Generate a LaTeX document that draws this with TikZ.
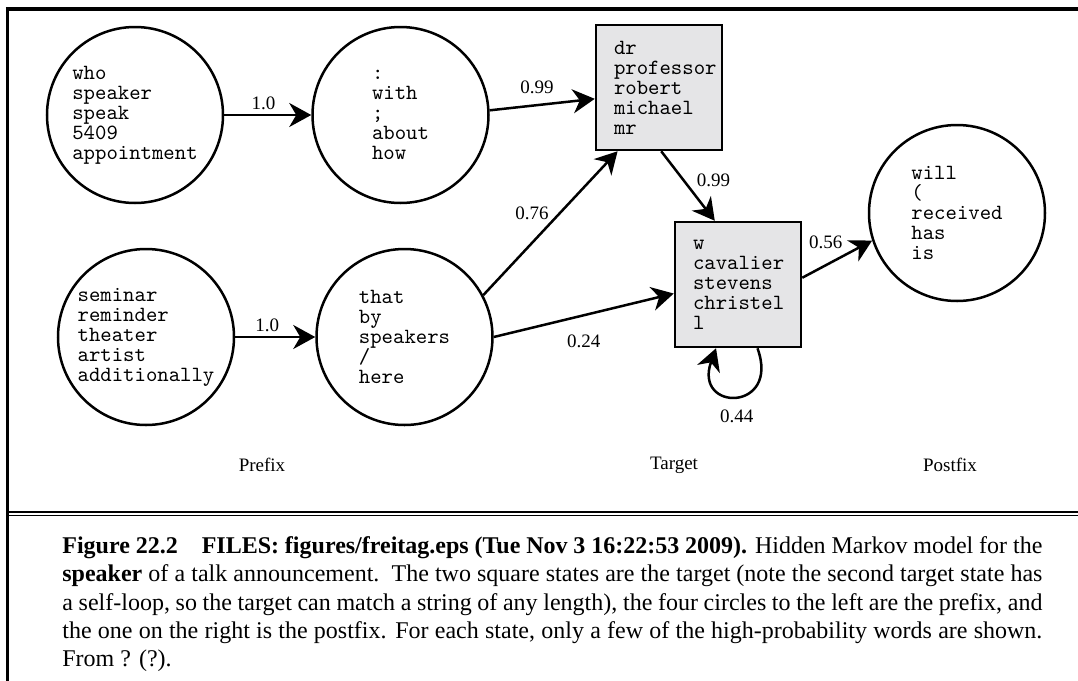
\documentclass[tikz,border=0pt]{standalone}
\usepackage{fontspec}
\setmainfont{Liberation Serif}
\usetikzlibrary{positioning, arrows.meta, calc}
\definecolor{boxfill}{HTML}{E5E5E7}
\newcommand{\wordsize}{\ttfamily\fontsize{10.85}{10}\selectfont}

\begin{document}
\begin{tikzpicture}[x=0.5pt, y=-0.5pt,
    circ/.style={circle, draw, line width=1.25pt, minimum size=88pt, inner sep=0pt, align=left, font=\wordsize},
    sqr/.style={rectangle, draw, fill=boxfill, line width=1.25pt, minimum width=63pt, minimum height=62.5pt, text width=45pt, inner xsep=9pt, inner ysep=0pt, align=left, font=\wordsize},
    arr/.style={-{Stealth[length=11pt, width=12pt, inset=3.5pt]}, line width=1.25pt},
    lbl/.style={font=\fontsize{9.5}{11}\selectfont, inner sep=2pt},
    region/.style={font=\fontsize{9.5}{11}\selectfont},
    frameline/.style={line width=#1},
  ]
    \useasboundingbox (0,0) rectangle (1078,681);

    % prefix states
    \node[circ] (pre1) at (135,115) {who\\speaker\\speak\\5409\\appointment};
    \node[circ, right=43.5pt of pre1] (pre2) {:\\with\\;\\about\\how};
    \node[circ] (pre3) at (146,337) {seminar\\reminder\\theater\\artist\\additionally};
    \node[circ, right=40pt of pre3] (pre4) {that\\by\\speakers\\/\\here};

    % target and postfix states
    \node[sqr] (tgt1) at (659,87.5) {dr\\professor\\robert\\michael\\mr};
    \node[sqr] (tgt2) at (738,284.5) {w\\cavalier\\stevens\\christel\\l};
    \node[circ] (post) at (957,213) {will\\(\\received\\has\\is};

    \draw[arr] (pre1) -- node[lbl, above, pos=0.45] {1.0} (pre2);
    \draw[arr] (pre3) -- node[lbl, above, pos=0.4] {1.0} (pre4);
    \draw[arr] (pre2.3) -- node[lbl, above=3pt, pos=0.45] {0.99} (tgt1.190);
    \draw[arr] (pre4.28) -- node[lbl, left=3pt, pos=0.57] {0.76} (tgt1.237);
    \draw[arr] (pre4.east) -- node[lbl, below=7pt] {0.24} (tgt2.188);
    \draw[arr] (tgt1.272) -- node[lbl, right=4pt, pos=0.42] {0.99} (tgt2.110);
    \draw[arr] (tgt2.6) -- node[lbl, above left, pos=0.65] {0.56} (post.198);
    \draw[arr] (tgt2.287) .. controls +(-70:34pt) and +(-110:34pt) .. node[lbl, below=4pt] {0.44} (tgt2.251);

    \node[region] (prefix) at (262,465) {Prefix};
    \node[region] (target) at (674,465) {Target};
    \node[region] (postfix) at (950,465) {Postfix};

    % frame
    \draw[frameline=1.75pt] (5.8,9.2) -- (1078,9.2);
    \draw[frameline=1.4pt] (7.4,7.4) -- (7.4,681);
    \draw[frameline=1.35pt] (7.4,512) -- (1078,512);
    \draw[frameline=0.8pt] (7.4,515.5) -- (1078,515.5);

    \node[anchor=north west, align=left, inner sep=0pt, font=\fontsize{12}{14.2}\selectfont] (caption) at (62,536) {%
      \makebox[490pt][s]{\textbf{Figure 22.2}\hspace{1em}\textbf{FILES: figures/freitag.eps (Tue Nov 3 16:22:53 2009).} Hidden Markov model for the}\\
      \makebox[490pt][s]{\textbf{speaker} of a talk announcement.\ \ The two square states are the target (note the second target state has}\\
      \makebox[490pt][s]{a self-loop, so the target can match a string of any length), the four circles to the left are the prefix, and}\\
      \makebox[490pt][s]{the one on the right is the postfix. For each state, only a few of the high-probability words are shown.}\\
      From ? (?).};
\end{tikzpicture}
\end{document}
